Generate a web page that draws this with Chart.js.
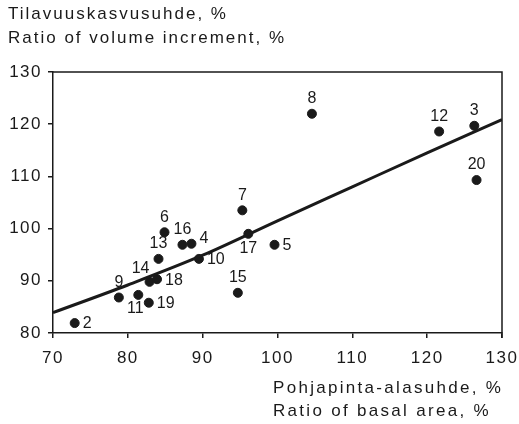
<!DOCTYPE html>
<html>
<head>
<meta charset="utf-8">
<script src="https://cdn.jsdelivr.net/npm/chart.js@4.4.1/dist/chart.umd.min.js"></script>
<style>
  html, body { margin: 0; padding: 0; background: #fff; }
  #wrap { width: 519px; height: 424px; }
</style>
</head>
<body>
<div id="wrap"><canvas id="kuva"></canvas></div>
<script>
// Koealat: pohjapinta-alasuhde (x) ja tilavuuskasvusuhde (y)
const plotIds     = [2, 9, 11, 19, 14, 18, 13, 6, 16, 4, 10, 7, 17, 5, 15, 8, 12, 3, 20];
const basalRatio  = [72.9, 78.8, 81.4, 82.8, 82.9, 83.9, 84.1, 84.9, 87.3, 88.5, 89.5, 95.3, 96.1, 99.6, 94.7, 104.6, 121.6, 126.3, 126.6];
const volumeRatio = [81.9, 86.8, 87.3, 85.8, 89.8, 90.3, 94.2, 99.3, 96.9, 97.1, 94.2, 103.5, 99.0, 96.9, 87.7, 122.0, 118.6, 119.7, 109.3];
const labelSide   = ['right', 'above', 'belowleft', 'right', 'aboveleft', 'right', 'above', 'above', 'above', 'upright', 'right', 'above', 'below', 'right', 'above', 'above', 'above', 'above', 'above'];

// Tasoitettu käyrä
const fitX = [70, 80, 90, 100, 110, 120, 130];
const fitY = [83.9, 89.2, 94.9, 101.5, 108.0, 114.5, 120.9];

const xTicks = [70, 80, 90, 100, 110, 120, 130];
const yTicks = [80, 90, 100, 110, 120, 130];

const fontta = 'Liberation Sans, Arial, Helvetica, sans-serif';
const musta = '#1a1a1a';

const pisteet = plotIds.map((id, i) => ({ x: basalRatio[i], y: volumeRatio[i] }));
const kayra = fitX.map((x, i) => ({ x: x, y: fitY[i] }));

// harvennettu kirjasin akseleiden numeroille
const harvennus = {
  id: 'harvennus',
  beforeDraw(chart) { chart.ctx.letterSpacing = '1.5px'; },
  beforeDatasetsDraw(chart) { chart.ctx.letterSpacing = '0px'; }
};

// numerot pisteiden viereen + otsikot + kehys
const tekstit = {
  id: 'tekstit',
  afterDatasetsDraw(chart) {
    const ctx = chart.ctx;
    const a = chart.chartArea;
    ctx.save();
    ctx.letterSpacing = '0px';
    ctx.strokeStyle = musta;
    ctx.lineWidth = 1.5;
    ctx.beginPath();
    ctx.moveTo(a.left, a.top);
    ctx.lineTo(a.right, a.top);
    ctx.lineTo(a.right, a.bottom + 5);
    ctx.stroke();

    ctx.fillStyle = musta;
    ctx.font = '16px ' + fontta;
    const meta = chart.getDatasetMeta(1);
    meta.data.forEach((p, i) => {
      const s = labelSide[i];
      let dx = 0, dy = 0;
      ctx.textBaseline = 'middle';
      ctx.textAlign = 'center';
      if (s === 'right') { ctx.textAlign = 'left'; dx = 8; dy = 1; }
      else if (s === 'above') { dy = -15; }
      else if (s === 'below') { dy = 15; }
      else if (s === 'belowleft') { dx = -3; dy = 14; }
      else if (s === 'aboveleft') { dx = -9; dy = -13; }
      else if (s === 'upright') { ctx.textAlign = 'left'; dx = 8; dy = -5; }
      ctx.fillText(String(plotIds[i]), p.x + dx, p.y + dy);
    });

    ctx.font = '17px ' + fontta;
    ctx.textAlign = 'left';
    ctx.textBaseline = 'middle';
    ctx.letterSpacing = '2px';
    ctx.fillText('Tilavuuskasvusuhde, %', 8, 14);
    ctx.fillText('Ratio of volume increment, %', 8, 38);
    ctx.letterSpacing = '2.3px';
    ctx.fillText('Pohjapinta-alasuhde, %', 273, 388);
    ctx.fillText('Ratio of basal area, %', 273, 411);
    ctx.restore();
  }
};

new Chart(document.getElementById('kuva').getContext('2d'), {
  type: 'scatter',
  data: {
    datasets: [
      {
        type: 'line',
        data: kayra,
        borderColor: musta,
        borderWidth: 3,
        pointRadius: 0,
        tension: 0.4,
        cubicInterpolationMode: 'monotone',
        fill: false
      },
      {
        data: pisteet,
        backgroundColor: musta,
        borderColor: musta,
        pointRadius: 4.5,
        pointHoverRadius: 4.5
      }
    ]
  },
  options: {
    responsive: true,
    maintainAspectRatio: false,
    animation: false,
    events: [],
    layout: { padding: { top: 72, right: 17, left: 0, bottom: 0 } },
    plugins: {
      legend: { display: false },
      tooltip: { enabled: false }
    },
    scales: {
      x: {
        type: 'linear',
        min: 70,
        max: 130,
        afterBuildTicks: s => { s.ticks = xTicks.map(v => ({ value: v })); },
        afterFit: s => { s.height = 91; s.paddingLeft = 0; s.paddingRight = 0; },
        grid: { drawOnChartArea: false, drawTicks: true, tickLength: 5, color: musta, lineWidth: 1.5 },
        border: { color: musta, width: 1.5 },
        ticks: { color: musta, padding: 10, font: { family: fontta, size: 17 } }
      },
      y: {
        type: 'linear',
        min: 80,
        max: 130,
        afterBuildTicks: s => { s.ticks = yTicks.map(v => ({ value: v })); },
        afterFit: s => { s.width = 53; s.paddingTop = 0; s.paddingBottom = 0; },
        grid: { drawOnChartArea: false, drawTicks: true, tickLength: 5, color: musta, lineWidth: 1.5 },
        border: { color: musta, width: 1.5 },
        ticks: { color: musta, padding: 6, font: { family: fontta, size: 17 } }
      }
    }
  },
  plugins: [harvennus, tekstit]
});
</script>
</body>
</html>
